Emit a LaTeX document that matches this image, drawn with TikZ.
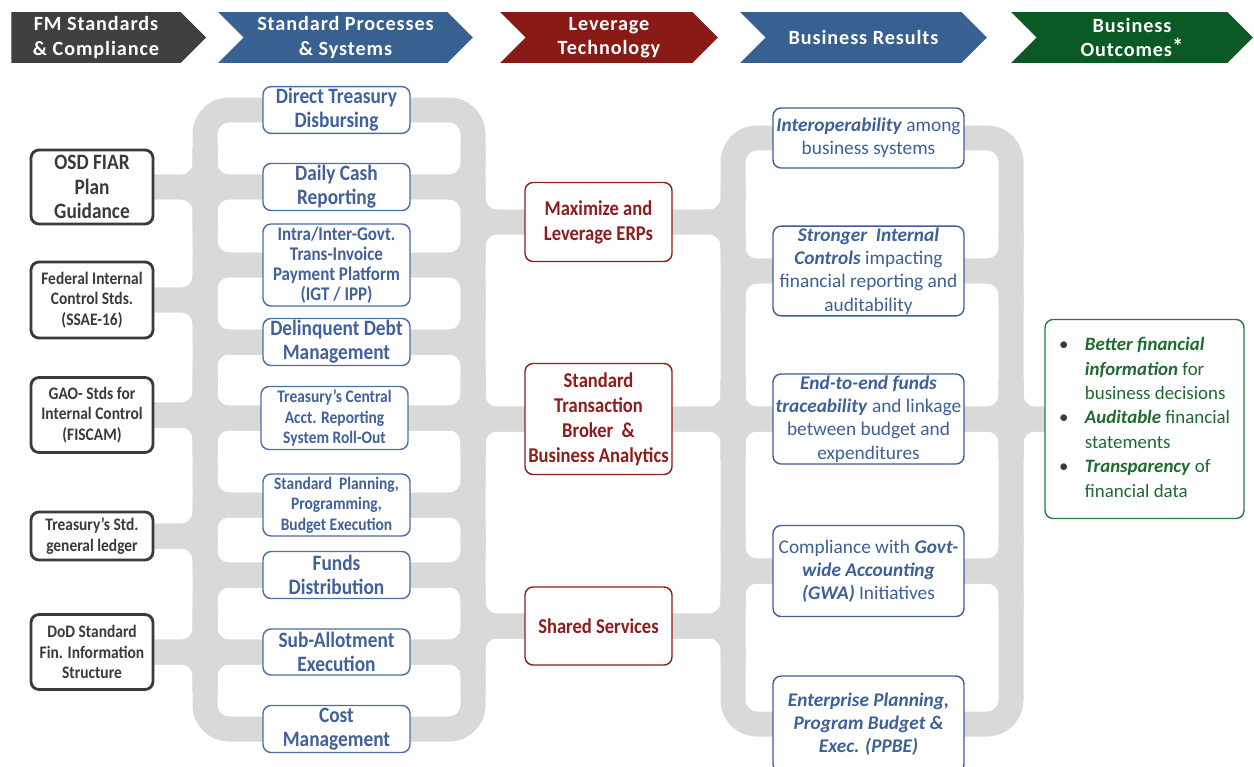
\documentclass[tikz,border=0pt]{standalone}
\usepackage{fontspec}
\setmainfont{Carlito}[BoldFeatures={FakeStretch=0.88}]
\newfontfamily\headfont[LetterSpace=4.5]{Carlito}
\usetikzlibrary{shapes.symbols, backgrounds}

\definecolor{bandgray}{HTML}{D9D9D9}
\definecolor{hdrgray}{HTML}{404040}
\definecolor{hdrblue}{HTML}{386192}
\definecolor{hdrred}{HTML}{8A1A15}
\definecolor{hdrgreen}{HTML}{0B5A25}
\definecolor{stdgray}{HTML}{3A3A3A}
\definecolor{procblue}{HTML}{4A6EA6}
\definecolor{proctext}{HTML}{42609A}
\definecolor{techred}{HTML}{8E1D1D}
\definecolor{resblue}{HTML}{3D6098}
\definecolor{outgreen}{HTML}{2C7A3A}
\definecolor{outtext}{HTML}{1F6A30}

\newcommand{\bi}[1]{\textbf{\textit{#1}}}

\begin{document}
\begin{tikzpicture}[x=0.02cm, y=-0.02cm]

\tikzset{header/.style = {signal, signal to=east, signal from=west, minimum height=1.02cm, inner sep=0pt, text=white, align=center, font=\headfont\bfseries\fontsize{11.5}{13.7}\selectfont}, }
\tikzset{box/.style = {rectangle, rounded corners=0.16cm, draw, fill=white, align=center, inner sep=1pt}, }
\tikzset{stdbox/.style = {box, draw=stdgray, line width=1.6pt, text=stdgray, minimum width=2.44cm}, }
\tikzset{procbox/.style = {box, draw=procblue, line width=0.8pt, text=proctext, minimum width=2.94cm}, }
\tikzset{techbox/.style = {box, draw=techred, line width=0.8pt, text=techred, minimum width=2.94cm, font=\bfseries\fontsize{12}{14.2}\selectfont}, }
\tikzset{resbox/.style = {box, draw=resblue, line width=0.8pt, text=resblue, minimum width=3.82cm, font=\fontsize{11}{13.2}\selectfont}, }
\tikzset{band/.style = {draw=bandgray, line width=0.5cm, rounded corners=0.48cm}, }

\useasboundingbox (0,0) rectangle (1254,767);

% column headers
\node[header, fill=hdrgray, signal from=nowhere, minimum width=3.9cm] (h1) at (96,37.5) {FM Standards\\\& Compliance};
\node[header, fill=hdrblue, minimum width=5.1cm] (h2) at (345.5,37.5) {Standard Processes\\\& Systems};
\node[header, fill=hdrred, minimum width=4.36cm] (h3) at (609,37.5) {Leverage\\Technology};
\node[header, fill=hdrblue, minimum width=4.94cm] (h4) at (863.5,37.5) {Business Results};
\node[header, fill=hdrgreen, minimum width=4.84cm] (h5) at (1132,37.5) {Business\\Outcomes\raisebox{0.25ex}{\fontsize{13}{13}\selectfont*}};

% FM standards
\node[stdbox, minimum height=1.48cm, font=\bfseries\fontsize{12.5}{13.9}\selectfont] (osd) at (92,187) {OSD FIAR\\Plan\\Guidance};
\node[stdbox, minimum height=1.52cm, font=\bfseries\fontsize{10}{11.6}\selectfont] (fed) at (92,300) {Federal Internal\\Control Stds.\\(SSAE-16)};
\node[stdbox, minimum height=1.5cm, font=\bfseries\fontsize{10}{11.6}\selectfont] (gao) at (92,415) {GAO- Stds for\\Internal Control\\(FISCAM)};
\node[stdbox, minimum height=0.96cm, font=\bfseries\fontsize{10}{11.6}\selectfont] (tsgl) at (92,536) {Treasury’s Std.\\general ledger};
\node[stdbox, minimum height=1.5cm, font=\bfseries\fontsize{10}{11.6}\selectfont] (dod) at (92,652) {DoD Standard\\Fin. Information\\Structure};

% standard processes
\node[procbox, minimum height=0.92cm, font=\bfseries\fontsize{12.5}{13.7}\selectfont] (direct) at (336.5,110) {Direct Treasury\\Disbursing};
\node[procbox, minimum height=0.94cm, font=\bfseries\fontsize{12.5}{13.7}\selectfont] (daily) at (336.5,187) {Daily Cash\\Reporting};
\node[procbox, minimum height=1.64cm, font=\bfseries\fontsize{11}{11.4}\selectfont] (intra) at (336.5,265) {Intra/Inter-Govt.\\Trans-Invoice\\Payment Platform\\(IGT / IPP)};
\node[procbox, minimum height=0.94cm, font=\bfseries\fontsize{12.5}{13.7}\selectfont] (debt) at (336.5,342) {Delinquent Debt\\Management};
\node[procbox, minimum height=1.26cm, font=\bfseries\fontsize{10}{11.6}\selectfont] (central) at (334.5,418) {Treasury’s Central\\Acct. Reporting\\System Roll-Out};
\node[procbox, minimum height=1.24cm, font=\bfseries\fontsize{10}{11.6}\selectfont] (plan) at (336.5,505) {Standard~~Planning,\\Programming,\\Budget Execution};
\node[procbox, minimum height=0.94cm, font=\bfseries\fontsize{12.5}{13.7}\selectfont] (funds) at (336.5,575) {Funds\\Distribution};
\node[procbox, minimum height=0.92cm, font=\bfseries\fontsize{12.5}{13.7}\selectfont] (sub) at (336.5,652) {Sub-Allotment\\Execution};
\node[procbox, minimum height=0.94cm, font=\bfseries\fontsize{12.5}{13.7}\selectfont] (cost) at (336.5,729) {Cost\\Management};

% technology
\node[techbox, minimum height=1.58cm] (erp) at (598.5,222) {Maximize and\\Leverage ERPs};
\node[techbox, minimum height=2.22cm] (broker) at (598.5,419) {Standard\\Transaction\\Broker~~\&\\Business Analytics};
\node[techbox, minimum height=1.56cm] (shared) at (598.5,626) {Shared Services};

% business results
\node[resbox, minimum height=1.2cm] (interop) at (868.5,138) {\bi{Interoperability} among\\business systems};
\node[resbox, minimum height=1.68cm] (controls) at (868.5,271) {\bi{Stronger~ Internal}\\\bi{Controls} impacting\\financial reporting and\\auditability};
\node[resbox, minimum height=1.8cm] (trace) at (868.5,419) {\bi{End-to-end funds}\\\bi{traceability} and linkage\\between budget and\\expenditures};
\node[resbox, minimum height=1.82cm] (gwa) at (868.5,571) {Compliance with \bi{Govt-}\\\bi{wide Accounting}\\\bi{(GWA)} Initiatives};
\node[resbox, minimum height=1.92cm] (ppbe) at (868.5,724) {\bi{Enterprise Planning,}\\\bi{Program Budget \&}\\\bi{Exec. (PPBE)}};

% business outcomes
\node[box, draw=outgreen, line width=0.8pt, text=outtext, minimum width=3.98cm, minimum height=3.98cm, align=left, font=\fontsize{10.75}{13.9}\selectfont] (outcome) at (1144.5,419) {%
\raisebox{-0.08cm}{\begin{tabular}{@{}l@{\hspace{0.33cm}}l@{}}
\textcolor{stdgray}{•} & \bi{Better financial}\\
 & \bi{information} for\\
 & business decisions\\
\textcolor{stdgray}{•} & \bi{Auditable} financial\\
 & statements\\
\textcolor{stdgray}{•} & \bi{Transparency} of\\
 & financial data
\end{tabular}}};

% gray connector buses
\coordinate (busA) at (205,0);
\coordinate (busB) at (473,0);
\coordinate (busC) at (733,0);
\coordinate (busD) at (1011,0);

\begin{pgfonlayer}{background}
\draw[band] (direct.center) -| (busA |- cost) -- (cost.center);
\draw[band] (direct.center) -| (busB |- cost) -- (cost.center);
\draw[band] (interop.center) -| (busC |- ppbe) -- (ppbe.center);
\draw[band] (interop.center) -| (busD |- ppbe) -- (ppbe.center);

\foreach \n in {osd,fed,gao,tsgl,dod}{
  \draw[band] (\n.center) -- (\n -| busA) -- ++(0,-40);
  \draw[band] (\n.center) -- (\n -| busA) -- ++(0,40);
}
\foreach \n in {daily,intra,debt,central,plan,funds,sub}{
  \draw[band] (\n.center) -- (\n -| busA) -- ++(0,-40);
  \draw[band] (\n.center) -- (\n -| busA) -- ++(0,40);
  \draw[band] (\n.center) -- (\n -| busB) -- ++(0,-40);
  \draw[band] (\n.center) -- (\n -| busB) -- ++(0,40);
}
\foreach \n in {erp,broker,shared}{
  \draw[band] (\n.center) -- (\n -| busB) -- ++(0,-40);
  \draw[band] (\n.center) -- (\n -| busB) -- ++(0,40);
  \draw[band] (\n.center) -- (\n -| busC) -- ++(0,-40);
  \draw[band] (\n.center) -- (\n -| busC) -- ++(0,40);
}
\foreach \n in {controls,trace,gwa}{
  \draw[band] (\n.center) -- (\n -| busC) -- ++(0,-40);
  \draw[band] (\n.center) -- (\n -| busC) -- ++(0,40);
  \draw[band] (\n.center) -- (\n -| busD) -- ++(0,-40);
  \draw[band] (\n.center) -- (\n -| busD) -- ++(0,40);
}
\draw[band] (outcome.center) -- (outcome -| busD) -- ++(0,-40);
\draw[band] (outcome.center) -- (outcome -| busD) -- ++(0,40);
\end{pgfonlayer}

\end{tikzpicture}
\end{document}
